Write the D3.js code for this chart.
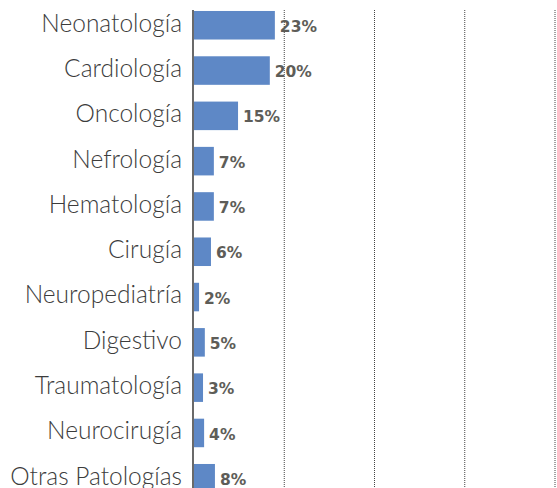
<!DOCTYPE html>
<html>
<head>
<meta charset="utf-8">
<script src="https://cdn.jsdelivr.net/npm/d3@7"></script>
<style>
  html, body { margin: 0; padding: 0; background: #fff; }
  svg { display: block; }
  .cat { font-family: "Lato", "Open Sans", sans-serif; font-weight: 300; font-size: 24.5px; fill: #3c3c3c; }
  .val { font-family: "DejaVu Sans", sans-serif; font-weight: bold; font-size: 15.5px; fill: #5e5d58; }
</style>
</head>
<body>
<div id="chart"></div>
<script>
// categories, top to bottom
const categorias = ['Neonatología', 'Cardiología', 'Oncología', 'Nefrología', 'Hematología',
  'Cirugía', 'Neuropediatría', 'Digestivo', 'Traumatología', 'Neurocirugía', 'Otras Patologías'];
// printed percentage labels
const porcentajes = [23, 20, 15, 7, 7, 6, 2, 5, 3, 4, 8];
// bar lengths as drawn (axis units, 0-100)
const barras = [22.4, 21.0, 12.2, 5.5, 5.5, 4.7, 1.4, 3.0, 2.5, 2.8, 5.8];
const gridTicks = [25, 50, 75, 100];

const width = 557, height = 488;
const margin = {top: 10, left: 193, right: 2};

const svg = d3.select('#chart').append('svg')
  .attr('width', width)
  .attr('height', height);

const x = d3.scaleLinear()
  .domain([0, 100])
  .range([margin.left + 1, width - margin.right]);

const step = 45.3;
const y = d3.scaleBand()
  .domain(categorias)
  .range([2.6, 2.6 + step * categorias.length])
  .paddingInner(0.37)
  .paddingOuter(0.185);

// dotted gridlines
svg.append('g')
  .selectAll('line')
  .data(gridTicks)
  .enter().append('line')
    .attr('x1', d => x(d))
    .attr('x2', d => x(d))
    .attr('y1', margin.top)
    .attr('y2', height)
    .attr('stroke', '#444')
    .attr('stroke-width', 1)
    .attr('stroke-dasharray', '1,1');

// bars
svg.append('g')
  .selectAll('rect')
  .data(categorias)
  .enter().append('rect')
    .attr('x', x(0))
    .attr('y', d => y(d))
    .attr('width', (d, i) => x(barras[i]) - x(0))
    .attr('height', y.bandwidth())
    .attr('fill', '#5e88c6');

// value labels
svg.append('g')
  .selectAll('text')
  .data(categorias)
  .enter().append('text')
    .attr('class', 'val')
    .attr('x', (d, i) => x(barras[i]) + 5)
    .attr('y', d => y(d) + y.bandwidth() / 2 + 1)
    .attr('dy', '0.36em')
    .text((d, i) => porcentajes[i] + '%');

// category axis
const axis = svg.append('g')
  .attr('transform', 'translate(' + margin.left + ',0)')
  .call(d3.axisLeft(y).tickSize(0).tickPadding(11));
axis.select('.domain')
  .attr('d', 'M0,' + margin.top + 'V' + height)
  .attr('stroke', '#444')
  .attr('stroke-width', 1.6);
axis.selectAll('.tick text')
  .attr('class', 'cat')
  .attr('dy', '0.26em')
  .attr('font-family', null)
  .attr('font-size', null);
</script>
</body>
</html>
